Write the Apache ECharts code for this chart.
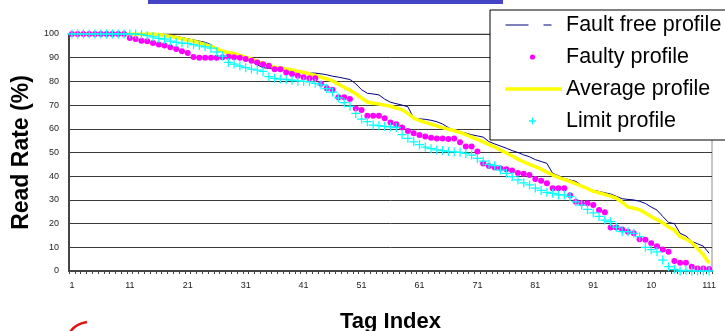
<!DOCTYPE html>
<html>
<head>
<meta charset="utf-8">
<script src="https://cdn.jsdelivr.net/npm/echarts@6/dist/echarts.min.js"></script>
<style>
html, body { margin: 0; padding: 0; background: #fff; }
#chart { width: 725px; height: 331px; }
</style>
</head>
<body>
<div id="chart"></div>
<script>
// 标签索引 1..111
var tagIndex = [];
for (var k = 1; k <= 111; k++) {
	tagIndex.push(String(k));
}
// 横轴上显示的刻度文字（每10个一个，101处原图被截成"10"）
var tickLabels = ['1', '11', '21', '31', '41', '51', '61', '71', '81', '91', '10', '111'];

var faultFree = [
	100, 100, 100, 100, 100, 100, 100, 100, 100, 100,
	100, 100, 100, 100, 100, 100, 99.8, 99.5, 99, 98.5,
	98, 97.5, 97, 96.5, 95.5, 94, 92.5, 91.5, 91, 90.5,
	89.5, 88.5, 87, 85.8, 85.5, 85.2, 85, 84.6, 84.2, 83.8,
	83.6, 83.5, 83.5, 83.2, 82.8, 82.2, 81.8, 81.3, 80.8, 79,
	76.5, 75, 74.7, 74.3, 72.5, 71.2, 70.6, 70, 69.3, 64.5,
	64.2, 64, 63.6, 63, 62, 60.5, 59.3, 58.8, 58.2, 57.5,
	57, 56.5, 54.6, 53.6, 52.7, 51.8, 50.8, 50, 49, 48.2,
	47, 46.2, 45.4, 41.2, 40.2, 39, 38.4, 37.8, 36, 34.6,
	34, 33.6, 33, 32.5, 31.5, 30.5, 30.2, 30, 29.4, 28.5,
	27, 25.7, 23, 20.5, 20, 15.9, 14.8, 12.5, 11.5, 10.5,
	7.5
];
var faulty = [
	100, 100, 100, 100, 100, 100, 100, 100, 100, 100,
	98.3, 97.9, 97.2, 96.9, 96.2, 95.6, 95.2, 94.4, 93.7, 92.7,
	92, 90.3, 90, 90, 90, 90, 90.2, 90.4, 90.2, 90,
	89.5, 88.7, 88, 87.2, 86.6, 85.1, 85.1, 83.8, 83.1, 82.4,
	81.7, 81.3, 81.3, 79, 77.1, 76.5, 73.3, 73.3, 72.6, 68.6,
	67.9, 65.5, 65.5, 65.5, 64.4, 62.7, 61.9, 60.5, 59.1, 58.1,
	57.4, 56.7, 56.2, 55.9, 55.9, 55.7, 55.9, 54.3, 52.5, 52.5,
	50.4, 45.4, 44.3, 43.7, 43.3, 42.9, 42.4, 41.3, 41, 40.5,
	38.8, 38.1, 37, 34.9, 34.9, 34.9, 32, 29.2, 28.6, 28.6,
	27.8, 25.7, 24.8, 18.4, 18.4, 17.5, 16.6, 15.9, 13.4, 13.2,
	11.7, 10.4, 9.1, 8.1, 4.2, 3.5, 3.5, 1.8, 1.1, 1.1,
	0.8
];
var average = [
	100, 100, 100, 100, 100, 100, 100, 100, 100, 100,
	100, 100, 100, 100, 100, 99.8, 99.4, 99, 98.5, 98,
	97.5, 97, 96.3, 95.5, 94.8, 93.8, 92.7, 92.2, 91.8, 91,
	90.2, 89.5, 88.5, 87.5, 86.5, 86, 85.7, 85.2, 84.8, 84.3,
	83.8, 83.2, 82.5, 81.8, 81, 80.3, 78.8, 77.5, 76.3, 74.8,
	73, 71.3, 70.8, 70.5, 70, 69.5, 68.8, 68, 66.5, 64.5,
	63.5, 62.7, 62, 61.2, 60.5, 59.8, 59.2, 58.5, 57.5, 56.5,
	55.5, 54.5, 53.3, 52.3, 51, 49.8, 48.5, 47.2, 46, 45,
	44, 43, 41.7, 40.5, 39.5, 38.6, 37.8, 36.8, 35.8, 34.8,
	33.6, 33, 32.3, 31.6, 30.7, 29, 27, 26.5, 25.8, 24.5,
	22.9, 21.7, 20.3, 18.5, 17.3, 14.5, 13.5, 12, 9.5, 6.8,
	3.3
];
var limit = [
	100, 100, 100, 100, 100, 100, 100, 100, 100, 100,
	100, 100, 99.8, 99.3, 98.8, 98.2, 97.8, 97, 96.5, 96.2,
	96, 95.5, 95, 94.6, 94, 92.5, 90.7, 88, 87.3, 86.5,
	85.8, 85.2, 84.8, 84.2, 82, 81.3, 81, 80.8, 80.5, 80.2,
	80, 79.8, 79.2, 78.5, 77, 75.5, 73, 71, 69.5, 66.5,
	64.1, 63, 61.6, 61.3, 61, 60.8, 60.5, 57.5, 56, 54.5,
	53.3, 52.3, 51.6, 51.1, 50.8, 50.4, 50.3, 50.1, 49.6, 48.9,
	47.5, 46.4, 45, 44.5, 42.6, 41.2, 39.8, 38.4, 37.2, 36.3,
	35, 34, 33.2, 32.8, 32.1, 32.1, 31.4, 29.2, 27.8, 26,
	24.5, 23, 21.5, 20.8, 18.5, 16.6, 16.6, 15.9, 14.5, 10,
	9, 8.1, 4.6, 1.8, 0.7, 0, 0.3, 0, 0, 0,
	0
];

var seriesNames = ['Fault free profile', 'Faulty profile', 'Average profile', 'Limit profile'];

// 图例图标（带透明边角点，保证大小一致）
var corner = ' M0,0 L0,0 M56,10 L56,10';
var iconFaultFree = 'path://M0,4.4 L23,4.4 L23,5.6 L0,5.6 Z M38,4.4 L46,4.4 L46,5.6 L38,5.6 Z' + corner;
var iconFaulty = 'path://M29.6,5 A2.6,2.6 0 1 1 24.4,5 A2.6,2.6 0 1 1 29.6,5 Z' + corner;
var iconAverage = 'path://M0,3.3 L57,3.3 L57,6.7 L0,6.7 Z' + corner;
var iconLimit = 'path://M23.5,4.3 L30.5,4.3 L30.5,5.7 L23.5,5.7 Z M26.3,1.5 L27.7,1.5 L27.7,8.5 L26.3,8.5 Z' + corner;
var plusSymbol = 'path://M0,4.3 L10,4.3 L10,5.7 L0,5.7 Z M4.3,0 L5.7,0 L5.7,10 L4.3,10 Z';

var font = 'Arial, "Liberation Sans", sans-serif';

var dom = document.getElementById('chart');
var myChart = echarts.init(dom, null, { renderer: 'canvas' });

var option = {
	animation: false,
	backgroundColor: '#ffffff',
	grid: {
		left: 69,
		right: 13,
		top: 34,
		bottom: 60,
		outerBoundsMode: 'none',
		containLabel: false,
		show: true,
		borderColor: '#8c8c8c',
		borderWidth: 1,
		backgroundColor: 'transparent'
	},
	legend: {
		left: 490,
		top: 10,
		orient: 'vertical',
		itemWidth: 57,
		itemHeight: 10,
		itemGap: 8,
		padding: [3, 40, 7, 15],
		backgroundColor: '#ffffff',
		borderColor: '#000000',
		borderWidth: 1,
		borderRadius: 0,
		selectedMode: false,
		textStyle: {
			fontFamily: font,
			fontSize: 21.5,
			color: '#000000',
			lineHeight: 24,
			padding: [0, 0, 0, -1]
		},
		data: [
			{ name: seriesNames[0], icon: iconFaultFree },
			{ name: seriesNames[1], icon: iconFaulty },
			{ name: seriesNames[2], icon: iconAverage },
			{ name: seriesNames[3], icon: iconLimit }
		]
	},
	xAxis: {
		type: 'category',
		data: tagIndex,
		boundaryGap: true,
		name: 'Tag Index',
		nameLocation: 'middle',
		nameGap: 40,
		nameTextStyle: {
			fontFamily: font,
			fontSize: 22,
			fontWeight: 'bold',
			color: '#000'
		},
		axisLine: { lineStyle: { color: '#444', width: 2 } },
		axisTick: {
			show: true,
			interval: 0,
			length: 3,
			lineStyle: { color: '#444', width: 1 }
		},
		axisLabel: {
			interval: 9,
			margin: 10,
			fontFamily: font,
			fontSize: 9,
			color: '#222',
			formatter: function (value, idx) {
				return tickLabels[Math.floor(idx / 10)];
			}
		},
		splitLine: { show: false }
	},
	yAxis: {
		type: 'value',
		min: 0,
		max: 100,
		interval: 10,
		name: 'Read Rate (%)',
		nameLocation: 'middle',
		nameGap: 34,
		nameTextStyle: {
			fontFamily: font,
			fontSize: 23,
			fontWeight: 'bold',
			color: '#000'
		},
		axisLine: { show: true, lineStyle: { color: '#444', width: 2 } },
		axisTick: { show: false },
		axisLabel: {
			margin: 10,
			fontFamily: font,
			fontSize: 9,
			color: '#222'
		},
		splitLine: { show: true, lineStyle: { color: '#3a3a3a', width: 1 } }
	},
	series: [{
		name: seriesNames[0],
		type: 'line',
		data: faultFree,
		symbol: 'none',
		z: 2,
		color: '#000080',
		lineStyle: { color: '#000080', width: 1 }
	}, {
		name: seriesNames[1],
		type: 'scatter',
		data: faulty,
		symbol: 'circle',
		symbolSize: 6,
		z: 4,
		color: '#ff00ff',
		itemStyle: { color: '#ff00ff', opacity: 1 }
	}, {
		name: seriesNames[2],
		type: 'line',
		data: average,
		symbol: 'none',
		z: 3,
		color: '#ffff00',
		lineStyle: { color: '#ffff00', width: 3.5 }
	}, {
		name: seriesNames[3],
		type: 'scatter',
		data: limit,
		symbol: plusSymbol,
		symbolSize: 9,
		z: 5,
		color: '#00ffff',
		itemStyle: { color: '#00ffff', opacity: 1 }
	}],
	graphic: [{
		type: 'rect',
		left: 148,
		top: 0,
		shape: { width: 355, height: 4 },
		style: { fill: '#4444c4' },
		silent: true
	}, {
		type: 'bezierCurve',
		shape: { x1: 70, y1: 332, x2: 87, y2: 322, cpx1: 75, cpy1: 324 },
		style: { stroke: '#e01010', lineWidth: 2.5, fill: null },
		silent: true
	}]
};
myChart.setOption(option);
</script>
</body>
</html>
